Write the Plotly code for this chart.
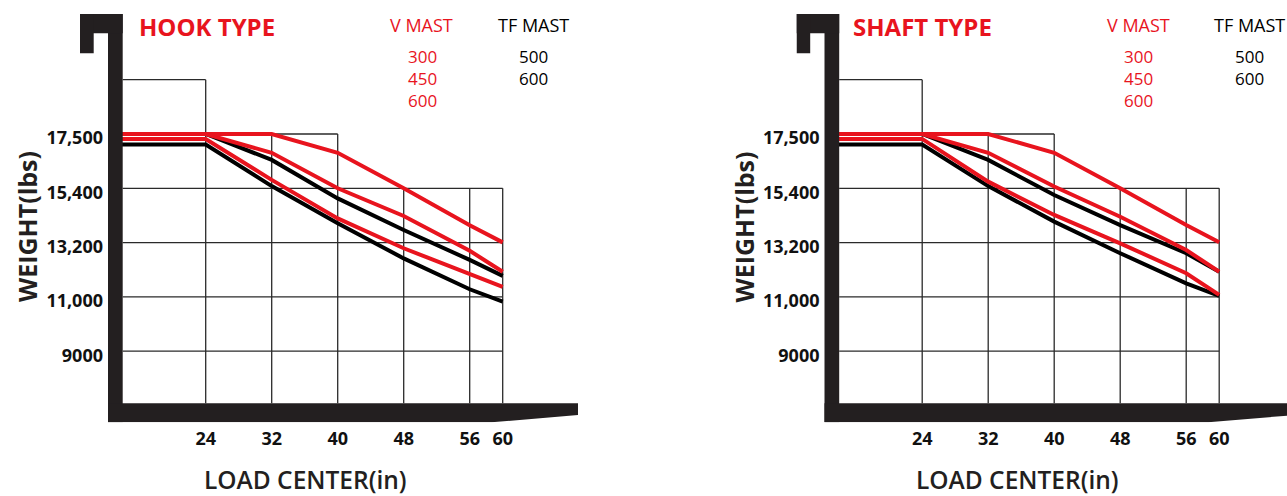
import plotly.graph_objects as go

# ---------------- data ----------------
load_center = [13, 24, 32, 40, 48, 56, 60]          # in (first point hidden under mast)
x_tickvals = [24, 32, 40, 48, 56, 60]
x_ticktext = ["24", "32", "40", "48", "56", "60"]
y_tickvals = [8800, 11000, 13200, 15400, 17600]
y_ticktext = ["9000", "11,000", "13,200", "15,400", "17,500"]

hook_v300 = [17600, 17600, 17600, 16840, 15400, 13900, 13210]
hook_v450 = [17600, 17600, 16840, 15400, 14280, 12870, 12020]
hook_v600 = [17400, 17400, 15740, 14180, 12970, 11930, 11410]
hook_tf500 = [17600, 17600, 16550, 14990, 13710, 12500, 11850]
hook_tf600 = [17170, 17170, 15490, 13980, 12560, 11310, 10810]

shaft_v300 = [17600, 17600, 17600, 16840, 15400, 13910, 13210]
shaft_v450 = [17600, 17600, 16840, 15470, 14250, 12900, 12020]
shaft_v600 = [17400, 17400, 15670, 14320, 13170, 11960, 11080]
shaft_tf500 = [17600, 17600, 16550, 15130, 13910, 12770, 12020]
shaft_tf600 = [17170, 17170, 15490, 14050, 12770, 11550, 11040]

chart_titles = ["HOOK TYPE", "SHAFT TYPE"]
v_mast_labels = ["300", "450", "600"]
tf_mast_labels = ["500", "600"]

# ---------------- style / geometry ----------------
W, H = 1287, 496
RED = "#e8141e"
BLK = "#000000"
MAST = "#231f20"
GRID = "#2a2a2a"
FONT = "Open Sans"

PX_PER_IN = 8.25
PX_PER_LB = 54.3 / 2200.0
SHIFT = [0.0, 716.5]          # horizontal pixel offset of each panel
X24_PX = 205.7               # pixel of x=24 in left panel
Y17600_PX = 134.0


def xv(px, i):
    return 24 + (px - SHIFT[i] - X24_PX) / PX_PER_IN


def yv(py):
    return 17600 - (py - Y17600_PX) / PX_PER_LB


def pxx(px):
    return px / W


def pxy(py):
    return 1 - py / H


fig = go.Figure()

panels = [
    (hook_v300, hook_v450, hook_v600, hook_tf500, hook_tf600),
    (shaft_v300, shaft_v450, shaft_v600, shaft_tf500, shaft_tf600),
]

shapes = []
annotations = []

for i, (v300, v450, v600, tf500, tf600) in enumerate(panels):
    xa = "x" if i == 0 else "x2"
    ya = "y" if i == 0 else "y2"
    for ys in (tf600, tf500):
        fig.add_trace(go.Scatter(x=load_center, y=ys, mode="lines",
                                 line=dict(color=BLK, width=4),
                                 xaxis=xa, yaxis=ya, showlegend=False,
                                 hoverinfo="skip"))
    for ys in (v600, v450, v300):
        fig.add_trace(go.Scatter(x=load_center, y=ys, mode="lines",
                                 line=dict(color=RED, width=4),
                                 xaxis=xa, yaxis=ya, showlegend=False,
                                 hoverinfo="skip"))

    mast_l = xv(108 + SHIFT[i], i)
    mast_r = xv(122.7 + SHIFT[i], i)
    fork_top = yv(403.3)
    bottom = yv(422.3)
    top = yv(14)

    gl = dict(type="line", xref=xa, yref=ya, layer="below",
              line=dict(color=GRID, width=1.3))
    # stepped grid
    shapes.append(dict(gl, x0=mast_r, x1=24, y0=19800, y1=19800))
    shapes.append(dict(gl, x0=mast_r, x1=40, y0=17600, y1=17600))
    for yy in (15400, 13200, 11000, 8800):
        shapes.append(dict(gl, x0=mast_r, x1=60, y0=yy, y1=yy))
    shapes.append(dict(gl, x0=24, x1=24, y0=19800, y1=fork_top))
    for xx in (32, 40):
        shapes.append(dict(gl, x0=xx, x1=xx, y0=17600, y1=fork_top))
    for xx in (48, 56, 60):
        shapes.append(dict(gl, x0=xx, x1=xx, y0=15400, y1=fork_top))

    mk = dict(xref=xa, yref=ya, layer="above", fillcolor=MAST,
              line=dict(width=0))
    # mast
    shapes.append(dict(mk, type="rect", x0=mast_l, x1=mast_r, y0=bottom, y1=top))
    # hook
    h_l = xv(80 + SHIFT[i], i)
    h_leg = xv(93.7 + SHIFT[i], i)
    shapes.append(dict(mk, type="rect", x0=h_l, x1=mast_r, y0=yv(33.3), y1=top))
    shapes.append(dict(mk, type="rect", x0=h_l, x1=h_leg, y0=yv(53.3), y1=top))
    # fork
    f_r = xv(578 + SHIFT[i], i)
    f_s = xv(491.7 + SHIFT[i], i)
    path = (f"M {mast_l} {fork_top} L {f_r} {fork_top} L {f_r} {yv(415)} "
            f"L {f_s} {bottom} L {mast_l} {bottom} Z")
    shapes.append(dict(mk, type="path", path=path))

    s = SHIFT[i]
    annotations.append(dict(text=chart_titles[i], x=pxx(206.5 + s), y=pxy(26.5),
                            font=dict(family=FONT, size=24, color=RED, weight=700)))
    annotations.append(dict(text="V MAST", x=pxx(421.5 + s), y=pxy(24.5),
                            font=dict(family=FONT, size=18, color=RED)))
    annotations.append(dict(text="TF MAST", x=pxx(533 + s), y=pxy(24.5),
                            font=dict(family=FONT, size=18, color=BLK)))
    annotations.append(dict(text="<br>".join(v_mast_labels), x=pxx(422 + s),
                            y=pxy(78.5),
                            font=dict(family=FONT, size=17, color=RED)))
    annotations.append(dict(text="<br>".join(tf_mast_labels), x=pxx(533 + s),
                            y=pxy(67.6),
                            font=dict(family=FONT, size=17, color=BLK)))
    annotations.append(dict(text="WEIGHT(lbs)", x=pxx(27 + s), y=pxy(227), textangle=-90,
                            font=dict(family=FONT, size=25, color=MAST, weight=700)))
    annotations.append(dict(text="LOAD CENTER(in)", x=pxx([305, 1017][i]), y=pxy(479),
                            font=dict(family=FONT, size=24.5, color=MAST, weight=600)))

for a in annotations:
    a.update(xref="paper", yref="paper", showarrow=False,
             xanchor="center", yanchor="middle")

tickfont = dict(family=FONT, size=18, color="#111111", weight=700)
common_x = dict(tickvals=x_tickvals, ticktext=x_ticktext, showgrid=False,
                zeroline=False, showline=False, ticks="", tickfont=tickfont,
                fixedrange=True, ticklabelstandoff=4)
common_y = dict(tickvals=y_tickvals, ticktext=y_ticktext, showgrid=False,
                zeroline=False, showline=False, ticks="", tickfont=tickfont,
                range=[yv(422.3), yv(14)], domain=[pxy(422.3), pxy(14)],
                fixedrange=True, ticklabelstandoff=-24, ticklabelshift=4)

fig.update_layout(
    width=W, height=H,
    margin=dict(l=0, r=0, t=0, b=0),
    paper_bgcolor="white", plot_bgcolor="white",
    xaxis=dict(common_x, domain=[pxx(80), pxx(578)],
               range=[xv(80, 0), xv(578, 0)], anchor="y"),
    yaxis=dict(common_y, anchor="x"),
    xaxis2=dict(common_x, domain=[pxx(80 + SHIFT[1]), 1.0],
                range=[xv(80 + SHIFT[1], 1), xv(W, 1)], anchor="y2"),
    yaxis2=dict(common_y, anchor="x2"),
    shapes=shapes,
    annotations=annotations,
    showlegend=False,
)

fig.write_html(
    "out.html",
    config={"displayModeBar": False},
    post_script="document.body.style.margin='0px';document.body.style.overflow='hidden';",
)
